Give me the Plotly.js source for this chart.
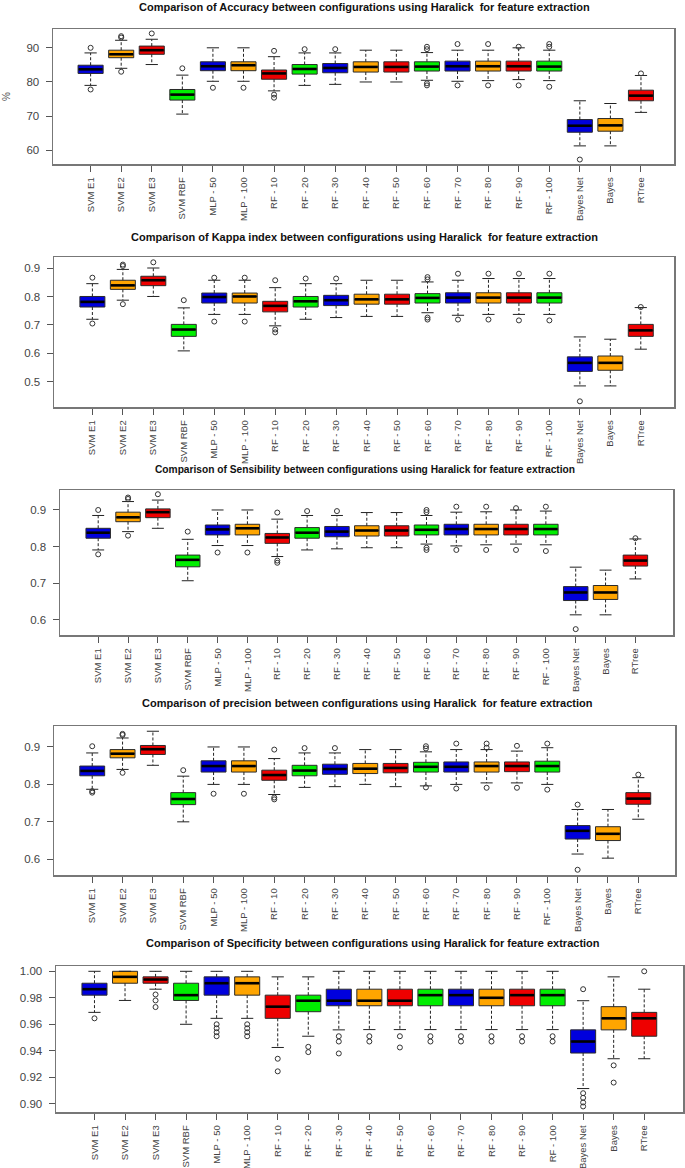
<!DOCTYPE html>
<html><head><meta charset="utf-8">
<script src="https://cdn.plot.ly/plotly-3.0.1.min.js"></script>
<style>html,body{margin:0;padding:0;background:#fff;} #chart{width:685px;height:1168px;}</style>
</head><body><div id="chart"></div>
<script>
// ---------------- DATA ----------------
const categories = ["SVM E1","SVM E2","SVM E3","SVM RBF","MLP - 50","MLP - 100","RF - 10","RF - 20","RF - 30","RF - 40","RF - 50","RF - 60","RF - 70","RF - 80","RF - 90","RF - 100","Bayes Net","Bayes","RTree"];
const palette = ["#0000DD","#FFA500","#EE0000","#00EE00"];

// Accuracy (%)
const acc_lo  = [79.0, 84.0, 85.1, 70.6, 80.2, 80.2, 77.4, 79.0, 79.3, 80.0, 80.0, 80.5, 80.2, 80.4, 80.7, 80.4, 61.3, 61.3, 71.1];
const acc_q1  = [82.5, 87.1, 88.1, 74.7, 83.3, 83.3, 80.8, 82.3, 82.7, 82.9, 82.9, 83.2, 83.2, 83.2, 83.2, 83.2, 65.3, 65.6, 74.5];
const acc_med = [83.7, 88.1, 89.3, 76.3, 84.6, 84.9, 82.5, 83.8, 84.1, 84.4, 84.4, 84.5, 84.6, 84.6, 84.6, 84.5, 67.2, 67.3, 76.0];
const acc_q3  = [84.9, 89.3, 90.5, 77.8, 85.9, 85.9, 83.5, 85.1, 85.4, 85.9, 85.9, 85.9, 86.1, 86.1, 86.1, 86.1, 69.0, 69.3, 77.6];
const acc_hi  = [88.5, 92.2, 92.5, 82.0, 90.0, 90.0, 87.4, 88.5, 88.5, 89.3, 89.3, 88.6, 89.3, 89.3, 90.0, 89.3, 74.5, 73.7, 81.9];
const acc_out = [[77.8,90.0],[83.0,93.0,93.4],[94.2],[84.0],[78.3],[78.3],[75.4,76.3,89.1],[89.6],[89.6],[],[],[79.0,79.6,89.6,90.3],[79.0,91.1],[79.0,91.1],[79.0,90.3],[78.6,90.3,91.1],[57.3],[],[82.5]];

// Kappa index
const kap_lo  = [0.720, 0.787, 0.800, 0.609, 0.737, 0.737, 0.697, 0.720, 0.726, 0.730, 0.730, 0.743, 0.734, 0.737, 0.737, 0.737, 0.486, 0.486, 0.615];
const kap_q1  = [0.763, 0.825, 0.838, 0.660, 0.777, 0.777, 0.746, 0.763, 0.768, 0.773, 0.773, 0.777, 0.777, 0.777, 0.777, 0.777, 0.537, 0.541, 0.660];
const kap_med = [0.781, 0.839, 0.857, 0.684, 0.798, 0.800, 0.767, 0.783, 0.787, 0.790, 0.790, 0.795, 0.796, 0.796, 0.796, 0.796, 0.567, 0.567, 0.681];
const kap_q3  = [0.800, 0.857, 0.871, 0.702, 0.812, 0.812, 0.783, 0.800, 0.804, 0.808, 0.808, 0.810, 0.813, 0.813, 0.813, 0.813, 0.588, 0.591, 0.702];
const kap_hi  = [0.845, 0.895, 0.900, 0.760, 0.857, 0.857, 0.831, 0.845, 0.845, 0.857, 0.857, 0.851, 0.857, 0.863, 0.863, 0.863, 0.658, 0.650, 0.761];
const kap_out = [[0.705,0.866],[0.773,0.907,0.912],[0.920],[0.787],[0.712,0.866],[0.712,0.866],[0.674,0.684,0.857],[0.863],[0.863],[],[],[0.719,0.726,0.860,0.868],[0.719,0.880],[0.719,0.880],[0.716,0.880],[0.716,0.880],[0.432],[],[0.763]];

// Sensibility
const sen_lo  = [0.791, 0.841, 0.850, 0.707, 0.803, 0.803, 0.773, 0.791, 0.794, 0.797, 0.797, 0.807, 0.802, 0.805, 0.807, 0.805, 0.614, 0.614, 0.712];
const sen_q1  = [0.823, 0.868, 0.879, 0.745, 0.832, 0.832, 0.809, 0.823, 0.827, 0.829, 0.829, 0.832, 0.832, 0.832, 0.832, 0.832, 0.653, 0.656, 0.747];
const sen_med = [0.838, 0.880, 0.894, 0.764, 0.847, 0.850, 0.825, 0.838, 0.841, 0.844, 0.844, 0.846, 0.848, 0.848, 0.848, 0.848, 0.675, 0.675, 0.762];
const sen_q3  = [0.850, 0.894, 0.903, 0.777, 0.859, 0.861, 0.836, 0.852, 0.855, 0.857, 0.857, 0.859, 0.861, 0.861, 0.861, 0.861, 0.691, 0.694, 0.777];
const sen_hi  = [0.885, 0.923, 0.927, 0.820, 0.900, 0.900, 0.875, 0.885, 0.885, 0.893, 0.893, 0.885, 0.894, 0.895, 0.900, 0.897, 0.744, 0.736, 0.821];
const sen_out = [[0.779,0.900],[0.830,0.930,0.934],[0.943],[0.841],[0.784],[0.784],[0.756,0.762,0.893],[0.897],[0.897],[],[],[0.791,0.797,0.894,0.900],[0.791,0.909],[0.791,0.909],[0.791,0.905],[0.788,0.909],[0.575],[],[0.823]];

// Precision
const pre_lo  = [0.787, 0.840, 0.851, 0.700, 0.800, 0.800, 0.773, 0.792, 0.794, 0.800, 0.794, 0.796, 0.800, 0.804, 0.804, 0.800, 0.614, 0.603, 0.707];
const pre_q1  = [0.823, 0.871, 0.880, 0.746, 0.833, 0.833, 0.811, 0.823, 0.827, 0.829, 0.831, 0.833, 0.833, 0.833, 0.834, 0.833, 0.654, 0.650, 0.747];
const pre_med = [0.836, 0.882, 0.894, 0.761, 0.849, 0.849, 0.825, 0.837, 0.841, 0.842, 0.844, 0.847, 0.847, 0.849, 0.849, 0.849, 0.676, 0.668, 0.762];
const pre_q3  = [0.849, 0.893, 0.904, 0.778, 0.863, 0.863, 0.838, 0.851, 0.854, 0.856, 0.856, 0.859, 0.860, 0.860, 0.860, 0.862, 0.690, 0.687, 0.778];
const pre_hi  = [0.884, 0.924, 0.942, 0.822, 0.900, 0.900, 0.869, 0.884, 0.884, 0.893, 0.893, 0.887, 0.893, 0.893, 0.889, 0.898, 0.733, 0.733, 0.818];
const pre_out = [[0.778,0.782,0.902],[0.831,0.932,0.935],[],[0.838],[0.775],[0.775],[0.760,0.765,0.893],[0.897],[0.897],[],[],[0.792,0.896,0.902],[0.789,0.909],[0.791,0.898,0.909],[0.791,0.903],[0.786,0.909],[0.572,0.746],[],[0.826]];

// Specificity
const spe_lo  = [0.969, 0.978, 0.9865, 0.960, 0.9645, 0.9645, 0.9425, 0.951, 0.9558, 0.956, 0.956, 0.956, 0.956, 0.956, 0.956, 0.956, 0.9115, 0.934, 0.934];
const spe_q1  = [0.982, 0.991, 0.991, 0.978, 0.982, 0.982, 0.9645, 0.9695, 0.974, 0.974, 0.974, 0.974, 0.974, 0.974, 0.974, 0.974, 0.9383, 0.9558, 0.951];
const spe_med = [0.9865, 0.9958, 0.9938, 0.982, 0.991, 0.991, 0.9733, 0.9778, 0.9778, 0.9778, 0.9778, 0.982, 0.982, 0.980, 0.982, 0.982, 0.947, 0.9645, 0.9645];
const spe_q3  = [0.991, 1.000, 0.9958, 0.991, 0.9958, 0.9958, 0.982, 0.982, 0.9865, 0.9865, 0.9865, 0.9865, 0.9865, 0.9865, 0.9865, 0.9865, 0.9558, 0.9733, 0.969];
const spe_hi  = [1.000, 1.000, 1.000, 1.000, 1.000, 1.000, 0.9958, 0.9958, 1.000, 1.000, 1.000, 1.000, 1.000, 1.000, 1.000, 1.000, 0.9778, 0.9958, 0.9865];
const spe_out = [[0.9645],[],[0.973,0.978,0.9825],[],[0.951,0.954,0.957,0.960],[0.951,0.954,0.957,0.960],[0.9245,0.934],[0.939,0.943],[0.938,0.947,0.951],[0.947,0.951],[0.9425,0.951],[0.947,0.951],[0.947,0.951],[0.947,0.951],[0.947,0.951],[0.947,0.951],[0.898,0.901,0.9045,0.908,0.9865],[0.916,0.929],[1.000]];

const titles = [
  "Comparison of Accuracy between configurations using Haralick  for feature extraction",
  "Comparison of Kappa index between configurations using Haralick  for feature extraction",
  "Comparison of Sensibility between configurations using Haralick for feature extraction",
  "Comparison of precision between configurations using Haralick  for feature extraction",
  "Comparison of Specificity between configurations using Haralick for feature extraction"
];

// ---------------- LAYOUT GEOMETRY ----------------
const W = 685, H = 1168;
const panels = [
  {lo:acc_lo,q1:acc_q1,med:acc_med,q3:acc_q3,hi:acc_hi,out:acc_out, frame:[53,674,29,164],  xr:[-1.23,19.08], yr:[56,95.5],      dtick:10,   fmt:"",    title:{cx:364,cy:7,size:11}},
  {lo:kap_lo,q1:kap_q1,med:kap_med,q3:kap_q3,hi:kap_hi,out:kap_out, frame:[54,674,257,407], xr:[-1.26,19.09], yr:[0.412,0.9386], dtick:0.1,  fmt:".1f", title:{cx:364,cy:237,size:11}},
  {lo:sen_lo,q1:sen_q1,med:sen_med,q3:sen_q3,hi:sen_hi,out:sen_out, frame:[60,673,490,635], xr:[-1.28,19.26], yr:[0.559,0.9545], dtick:0.1,  fmt:".1f", title:{cx:365,cy:469,size:10.2}},
  {lo:pre_lo,q1:pre_q1,med:pre_med,q3:pre_q3,hi:pre_hi,out:pre_out, frame:[54,675,726,875], xr:[-1.26,19.21], yr:[0.558,0.956],  dtick:0.1,  fmt:".1f", title:{cx:367,cy:703,size:11}},
  {lo:spe_lo,q1:spe_q1,med:spe_med,q3:spe_q3,hi:spe_hi,out:spe_out, frame:[56,683,966,1112],xr:[-1.26,19.27], yr:[0.8938,1.004], dtick:0.02, fmt:".2f", title:{cx:373,cy:943,size:11}}
];

const FONT = "Liberation Sans, Arial, sans-serif";
const BOXW = 0.82, CAPW = 0.2;
const traces = [];
const layout = {
  width: W, height: H, margin:{l:0,r:0,t:0,b:0},
  paper_bgcolor:"#fff", plot_bgcolor:"#fff",
  showlegend:false, boxmode:"overlay", font:{family:FONT},
  annotations:[]
};

panels.forEach((p, k) => {
  const s = k === 0 ? "" : String(k+1);
  const xa = "x"+s, ya = "y"+s;
  const [l, r, t, b] = p.frame;

  categories.forEach((c, i) => {
    traces.push({
      type:"box", x:[i], q1:[p.q1[i]], median:[p.med[i]], q3:[p.q3[i]],
      lowerfence:[p.q1[i]], upperfence:[p.q3[i]],
      width:BOXW, whiskerwidth:0, boxpoints:false,
      fillcolor: palette[i % 4], line:{color:"#2a2a2a", width:1},
      xaxis:xa, yaxis:ya, hoverinfo:"skip", name:c
    });
  });

  const wx = [], wy = [];
  const cx = [], cy = [];
  const mx = [], my = [];
  const ox = [], oy = [];
  categories.forEach((c, i) => {
    wx.push(i, i, null, i, i, null);
    wy.push(p.q3[i], p.hi[i], null, p.q1[i], p.lo[i], null);
    cx.push(i-CAPW, i+CAPW, null, i-CAPW, i+CAPW, null);
    cy.push(p.hi[i], p.hi[i], null, p.lo[i], p.lo[i], null);
    mx.push(i-BOXW/2+0.02, i+BOXW/2-0.02, null);
    my.push(p.med[i], p.med[i], null);
    p.out[i].forEach(v => { ox.push(i); oy.push(v); });
  });
  traces.push({type:"scatter", mode:"lines", x:wx, y:wy, xaxis:xa, yaxis:ya,
    line:{color:"#222", width:1, dash:"3px,2px"}, hoverinfo:"skip", connectgaps:false});
  traces.push({type:"scatter", mode:"lines", x:cx, y:cy, xaxis:xa, yaxis:ya,
    line:{color:"#222", width:1}, hoverinfo:"skip", connectgaps:false});
  traces.push({type:"scatter", mode:"lines", x:mx, y:my, xaxis:xa, yaxis:ya,
    line:{color:"#000", width:2.6}, hoverinfo:"skip", connectgaps:false});
  traces.push({type:"scatter", mode:"markers", x:ox, y:oy, xaxis:xa, yaxis:ya,
    marker:{symbol:"circle-open", size:5, color:"#333", line:{width:1}}, hoverinfo:"skip"});

  layout["xaxis"+s] = {
    domain:[l/W, r/W], range:p.xr, anchor:ya,
    tickmode:"array", tickvals:categories.map((c,i)=>i), ticktext:categories,
    tickangle:-90, ticks:"outside", ticklen:6, tickcolor:"#555", tickwidth:1,
    ticklabelstandoff:2,
    tickfont:{size:9.5, color:"#444", family:FONT},
    showline:true, mirror:true, linecolor:"#777", linewidth:1.5,
    showgrid:false, zeroline:false, fixedrange:true
  };
  layout["yaxis"+s] = {
    domain:[1-b/H, 1-t/H], range:p.yr, anchor:xa,
    dtick:p.dtick, tick0:0, tickformat:p.fmt, ticks:"outside", ticklen:6, tickcolor:"#555",
    ticklabelstandoff:4,
    tickfont:{size:11.5, color:"#444", family:FONT},
    showline:true, mirror:true, linecolor:"#777", linewidth:1.5,
    showgrid:false, zeroline:false, fixedrange:true
  };
  layout.annotations.push({
    xref:"paper", yref:"paper", x:p.title.cx/W, y:1-p.title.cy/H,
    xanchor:"center", yanchor:"middle", showarrow:false,
    text:"<b>"+titles[k]+"</b>", font:{size:p.title.size, color:"#111", family:FONT}
  });
});

layout.annotations.push({
  xref:"paper", yref:"paper", x:7/W, y:1-97/H, xanchor:"center", yanchor:"middle",
  showarrow:false, text:"%", textangle:-90, font:{size:10, color:"#555", family:FONT}
});

Plotly.newPlot("chart", traces, layout, {displayModeBar:false, staticPlot:true});
</script>
</body></html>
